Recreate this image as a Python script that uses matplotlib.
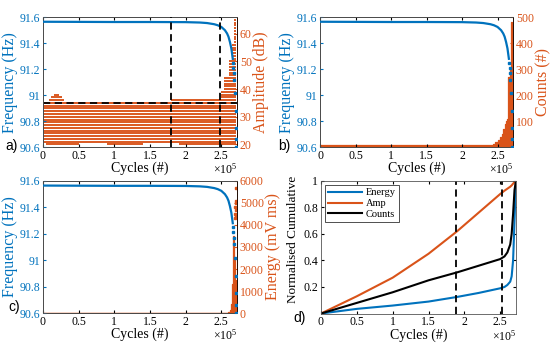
import matplotlib
matplotlib.use("Agg")
import matplotlib.pyplot as plt

# ---------------- data ----------------
# frequency (Hz) vs cycles
freq_cycles = [0, 0.5e5, 1.0e5, 1.5e5, 2.0e5, 2.2e5, 2.3e5, 2.4e5, 2.45e5, 2.5e5,
               2.55e5, 2.58e5, 2.6e5, 2.62e5, 2.64e5, 2.65e5, 2.66e5]
freq_vals = [91.565, 91.564, 91.563, 91.563, 91.562, 91.559, 91.555, 91.546, 91.538, 91.525,
             91.50, 91.475, 91.45, 91.41, 91.36, 91.32, 91.28]
tail_cycles = [2.665e5, 2.67e5, 2.675e5, 2.68e5, 2.69e5, 2.70e5, 2.705e5, 2.71e5, 2.71e5]
tail_freq = [91.25, 91.21, 91.17, 91.12, 91.02, 90.88, 90.75, 90.66, 90.6]

# amplitude (dB): full-length rows and stepped upper rows
amp_full_levels = list(range(21, 36))
amp_partial = [(20, 0.05e5, 0.5e5), (20, 0.9e5, 1.4e5), (20, 1.9e5, 2.71e5),
               (36, 0.08e5, 0.3e5), (37, 0.12e5, 0.27e5), (38, 0.15e5, 0.22e5),
               (36, 1.8e5, 2.5e5)]
amp_stair_x = [2.49e5, 2.54e5, 2.61e5, 2.65e5, 2.68e5]
amp_stair_top = [39, 44, 50, 56, 65]
amp_end = 2.71e5
amp_threshold = 35

# counts (#)
counts_x = [0, 2.44e5, 2.47e5, 2.50e5, 2.53e5, 2.56e5, 2.58e5, 2.60e5, 2.62e5, 2.64e5,
            2.65e5, 2.66e5, 2.67e5, 2.68e5, 2.69e5, 2.70e5, 2.71e5]
counts_y = [10, 14, 20, 28, 40, 50, 70, 90, 100, 110,
            270, 160, 200, 300, 480, 250, 0]

# energy (mV ms)
energy_x = [0, 2.55e5, 2.6e5, 2.62e5, 2.64e5, 2.65e5, 2.66e5, 2.67e5, 2.68e5, 2.69e5, 2.70e5]
energy_y = [10, 20, 60, 150, 400, 1300, 2000, 3500, 2500, 1500, 0]
energy_pts_x = [2.685e5, 2.69e5, 2.695e5, 2.70e5, 2.70e5, 2.705e5, 2.71e5, 2.71e5]
energy_pts_y = [4300, 4500, 4800, 5000, 4400, 4700, 5700, 5100]

# normalised cumulative
cum_x = [0, 0.5e5, 1.0e5, 1.5e5, 1.9e5, 2.2e5, 2.5e5, 2.56e5, 2.6e5, 2.64e5, 2.66e5, 2.68e5, 2.70e5, 2.72e5]
cum_energy = [0, 0.035, 0.06, 0.09, 0.125, 0.155, 0.19, 0.20, 0.215, 0.24, 0.28, 0.4, 0.7, 1.0]
cum_amp = [0, 0.13, 0.27, 0.45, 0.62, 0.76, 0.90, 0.925, 0.94, 0.955, 0.965, 0.978, 0.99, 1.0]
cum_counts = [0, 0.08, 0.16, 0.25, 0.31, 0.36, 0.41, 0.43, 0.46, 0.52, 0.60, 0.75, 0.93, 1.0]

vlines_a = [1.8e5, 2.48e5]
vlines_d = [1.88e5, 2.52e5]

xticks = [0, 0.5e5, 1e5, 1.5e5, 2e5, 2.5e5]
xticklabels = ['0', '0.5', '1', '1.5', '2', '2.5']
freq_ticks = [90.6, 90.8, 91.0, 91.2, 91.4, 91.6]
freq_ticklabels = ['90.6', '90.8', '91', '91.2', '91.4', '91.6']

# ---------------- style ----------------
BLUE = '#0072BD'
ORANGE = '#D95319'
SANS = 'Liberation Sans'
plt.rcParams['font.family'] = ['Liberation Serif', 'DejaVu Serif']
plt.rcParams['mathtext.fontset'] = 'custom'
plt.rcParams['mathtext.rm'] = 'Liberation Serif'
plt.rcParams['mathtext.it'] = 'Liberation Serif:italic'
plt.rcParams['xtick.direction'] = 'in'
plt.rcParams['ytick.direction'] = 'in'
plt.rcParams['xtick.major.size'] = 2.5
plt.rcParams['ytick.major.size'] = 2.5
plt.rcParams['axes.linewidth'] = 0.6

fig = plt.figure(figsize=(5.5, 3.44), dpi=100)
XMAX = 2.72e5
FS = 8.5
YLFS = 11.5


def setup_freq_axis(ax):
    ax.set_xlim(0, XMAX)
    ax.set_ylim(90.6, 91.6)
    ax.set_xticks(xticks)
    ax.set_xticklabels(xticklabels, fontsize=FS)
    ax.set_yticks(freq_ticks)
    ax.set_yticklabels(freq_ticklabels, fontsize=FS, color=BLUE)
    ax.tick_params(axis='y', colors=BLUE, labelcolor=BLUE, pad=2)
    ax.tick_params(axis='x', top=True, pad=2, labelsize=FS)
    ax.set_ylabel('Frequency (Hz)', color=BLUE, fontsize=YLFS, labelpad=1)
    ax.set_xlabel('Cycles (#)', fontsize=FS + 1.5, labelpad=0)
    ax.text(1.0, -0.17, r'$\times10^5$', transform=ax.transAxes, ha='right', va='center',
            fontsize=FS)
    for s in ['top', 'bottom', 'left']:
        ax.spines[s].set_color('#555555')


def plot_freq(ax):
    ax.plot(freq_cycles, freq_vals, color=BLUE, lw=1.6, zorder=3)
    ax.plot(tail_cycles, tail_freq, ls='none', marker='s', ms=1.6, color=BLUE, zorder=3)


def setup_right(ax2, lim, ticks, label):
    ax2.set_ylim(*lim)
    ax2.set_yticks(ticks)
    ax2.set_yticklabels([str(t) for t in ticks], fontsize=FS, color=ORANGE)
    ax2.tick_params(axis='y', colors=ORANGE, labelcolor=ORANGE, pad=2)
    ax2.spines['right'].set_color(ORANGE)
    ax2.set_ylabel(label, color=ORANGE, fontsize=YLFS, labelpad=1)


# ---- panel a ----
axa = fig.add_axes([0.078, 0.572, 0.353, 0.378])
axa2 = axa.twinx()
axa.set_zorder(axa2.get_zorder() + 1)
axa.patch.set_visible(False)
axa2.hlines(amp_full_levels, 0, amp_end, color=ORANGE, lw=1.35)
for lev, x0, x1 in amp_partial:
    axa2.hlines(lev, x0, x1, color=ORANGE, lw=1.35)
for lev in range(36, 66):
    starts = [sx for sx, top in zip(amp_stair_x, amp_stair_top) if top >= lev]
    if starts:
        axa2.hlines(lev, starts[0], amp_end, color=ORANGE, lw=1.35)
axa2.axhline(amp_threshold, color='black', ls='--', lw=1.3, dashes=(4, 2.5))
setup_right(axa2, (19, 66), [20, 30, 40, 50, 60], 'Amplitude (dB)')
plot_freq(axa)
for v in vlines_a:
    axa.axvline(v, color='black', ls='--', lw=1.3, dashes=(4, 2.5), zorder=4)
setup_freq_axis(axa)
fig.text(0.01, 0.575, 'a)', fontfamily=SANS, fontsize=10, va='center')

# ---- panel b ----
axb = fig.add_axes([0.582, 0.572, 0.351, 0.378])
axb2 = axb.twinx()
axb.set_zorder(axb2.get_zorder() + 1)
axb.patch.set_visible(False)
axb2.fill_between(counts_x, 0, counts_y, step='post', color=ORANGE, lw=0.9, edgecolor=ORANGE)
setup_right(axb2, (0, 500), [100, 200, 300, 400, 500], 'Counts (#)')
plot_freq(axb)
setup_freq_axis(axb)
fig.text(0.505, 0.575, 'b)', fontfamily=SANS, fontsize=10, va='center')

# ---- panel c ----
axc = fig.add_axes([0.078, 0.090, 0.353, 0.384])
axc2 = axc.twinx()
axc.set_zorder(axc2.get_zorder() + 1)
axc.patch.set_visible(False)
axc2.fill_between(energy_x, 0, energy_y, step='post', color=ORANGE, lw=0.9, edgecolor=ORANGE)
axc2.plot(energy_pts_x, energy_pts_y, ls='none', marker='s', ms=1.6, color=ORANGE)
setup_right(axc2, (0, 6000), [0, 1000, 2000, 3000, 4000, 5000, 6000], 'Energy (mV ms)')
plot_freq(axc)
setup_freq_axis(axc)
fig.text(0.015, 0.108, 'c)', fontfamily=SANS, fontsize=10, va='center')

# ---- panel d ----
axd = fig.add_axes([0.5836, 0.0886, 0.3545, 0.386])
axd.plot(cum_x, cum_energy, color=BLUE, lw=1.5, label='Energy')
axd.plot(cum_x, cum_amp, color=ORANGE, lw=1.5, label='Amp')
axd.plot(cum_x, cum_counts, color='black', lw=1.5, label='Counts')
for v in vlines_d:
    axd.axvline(v, color='black', ls='--', lw=1.3, dashes=(4, 2.5))
axd.set_xlim(0, XMAX)
axd.set_ylim(0, 1)
axd.set_xticks(xticks)
axd.set_xticklabels(xticklabels, fontsize=FS)
axd.set_yticks([0.2, 0.4, 0.6, 0.8, 1.0])
axd.set_yticklabels(['0.2', '0.4', '0.6', '0.8', '1'], fontsize=FS)
axd.tick_params(top=True, right=True, pad=2)
axd.set_ylabel('Normalised Cumulative', fontsize=9.5, labelpad=3)
axd.yaxis.set_label_coords(-0.115, 0.56)
axd.set_xlabel('Cycles (#)', fontsize=FS + 1.5, labelpad=0)
axd.text(1.0, -0.17, r'$\times10^5$', transform=axd.transAxes, ha='right', va='center', fontsize=FS)
for s in axd.spines.values():
    s.set_color('#555555')
leg = axd.legend(loc='upper left', fontsize=7.5, frameon=True, fancybox=False,
                 edgecolor='black', borderpad=0.3, labelspacing=0.15, handlelength=3.2,
                 handletextpad=0.4, borderaxespad=0.4)
leg.get_frame().set_linewidth(0.6)
fig.text(0.533, 0.075, 'd)', fontfamily=SANS, fontsize=10, va='center')

fig.savefig('out.png', dpi=100)
